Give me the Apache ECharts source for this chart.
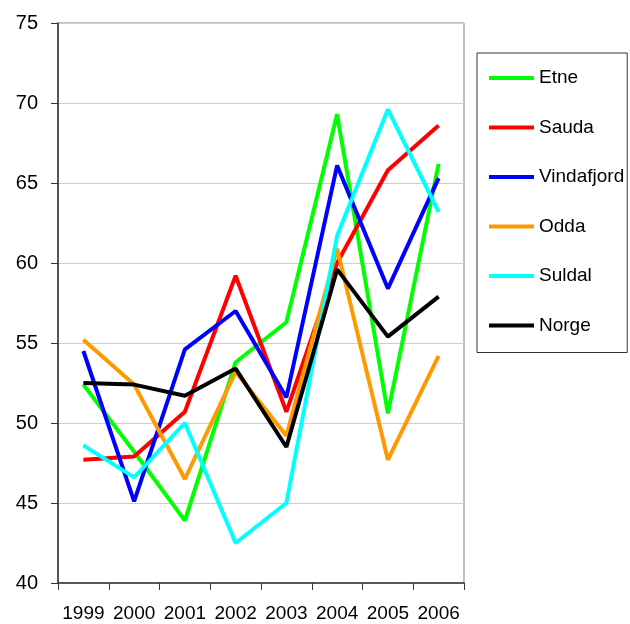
<!DOCTYPE html>
<html>
<head>
<meta charset="utf-8">
<script src="https://cdn.jsdelivr.net/npm/echarts@6/dist/echarts.min.js"></script>
<style>
    html, body { margin: 0; padding: 0; background: #fff; }
    #chart { width: 630px; height: 624px; }
</style>
</head>
<body>
<div id="chart"></div>
<script>
var years = ['1999', '2000', '2001', '2002', '2003', '2004', '2005', '2006'];

var etne       = [52.4, 48.2, 43.9, 53.8, 56.3, 69.3, 50.6, 66.2];
var sauda      = [47.7, 47.9, 50.7, 59.2, 50.7, 60.0, 65.8, 68.6];
var vindafjord = [54.5, 45.1, 54.6, 57.0, 51.6, 66.1, 58.4, 65.3];
var odda       = [55.2, 52.4, 46.5, 53.2, 49.2, 60.9, 47.7, 54.2];
var suldal     = [48.6, 46.6, 50.0, 42.5, 45.0, 61.7, 69.6, 63.2];
var norge      = [52.5, 52.4, 51.7, 53.4, 48.5, 59.6, 55.4, 57.9];

var chart = echarts.init(document.getElementById('chart'));

function line(name, data) {
    return {
        name: name,
        type: 'line',
        data: data,
        symbol: 'none',
        lineStyle: {width: 4},
        animation: false
    };
}

var option = {
    animation: false,
    color: ['#00ff00', '#ff0000', '#0000ff', '#ff9900', '#00ffff', '#000000'],
    textStyle: {fontFamily: 'Liberation Sans, Arial, sans-serif', color: '#000'},
    grid: {
        left: 58,
        right: 166,
        top: 23,
        bottom: 41,
        show: true,
        borderColor: '#808080',
        borderWidth: 1
    },
    legend: {
        orient: 'vertical',
        left: 477,
        top: 53,
        padding: [15, 3, 17, 12],
        itemGap: 29.5,
        itemWidth: 45,
        itemHeight: 4,
        icon: 'rect',
        borderColor: '#333',
        borderWidth: 1,
        backgroundColor: '#fff',
        textStyle: {fontSize: 19, lineHeight: 20, color: '#000'},
        data: ['Etne', 'Sauda', 'Vindafjord', 'Odda', 'Suldal', 'Norge']
    },
    xAxis: {
        type: 'category',
        boundaryGap: true,
        data: years,
        axisLine: {lineStyle: {color: '#333', width: 1.5}},
        axisTick: {show: true, length: 7, lineStyle: {color: '#333'}},
        axisLabel: {fontSize: 19, color: '#000', margin: 21, interval: 0}
    },
    yAxis: {
        type: 'value',
        min: 40,
        max: 75,
        interval: 5,
        axisLine: {show: true, lineStyle: {color: '#333', width: 1.5}},
        axisTick: {show: true, length: 7, lineStyle: {color: '#333'}},
        axisLabel: {fontSize: 20, color: '#000', margin: 20},
        splitLine: {lineStyle: {color: '#c8c8f8', width: 1}}
    },
    series: [
        line('Etne', etne),
        line('Sauda', sauda),
        line('Vindafjord', vindafjord),
        line('Odda', odda),
        line('Suldal', suldal),
        line('Norge', norge)
    ]
};

chart.setOption(option);
</script>
</body>
</html>
